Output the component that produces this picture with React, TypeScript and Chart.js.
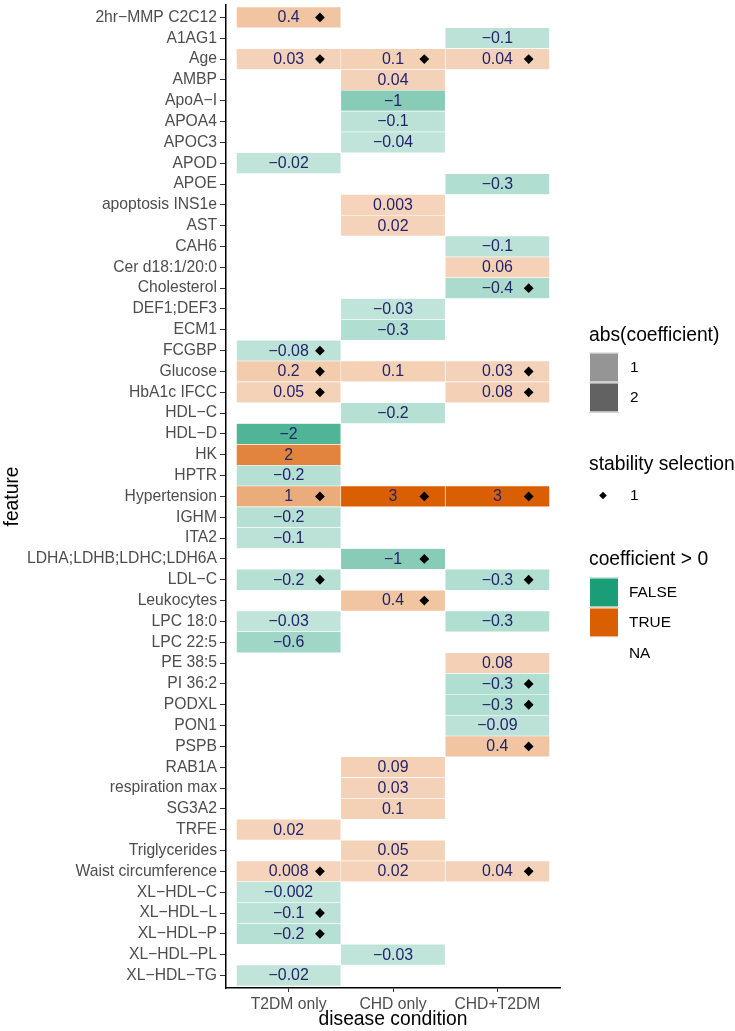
import React, { useEffect, useRef } from 'react';
import { Chart, registerables } from 'chart.js';

Chart.register(...registerables);

const _ = null;

const features: string[] = [
  '2hr−MMP C2C12', 'A1AG1', 'Age', 'AMBP', 'ApoA−I', 'APOA4', 'APOC3', 'APOD', 'APOE',
  'apoptosis INS1e', 'AST', 'CAH6', 'Cer d18:1/20:0', 'Cholesterol', 'DEF1;DEF3', 'ECM1',
  'FCGBP', 'Glucose', 'HbA1c IFCC', 'HDL−C', 'HDL−D', 'HK', 'HPTR', 'Hypertension', 'IGHM',
  'ITA2', 'LDHA;LDHB;LDHC;LDH6A', 'LDL−C', 'Leukocytes', 'LPC 18:0', 'LPC 22:5', 'PE 38:5',
  'PI 36:2', 'PODXL', 'PON1', 'PSPB', 'RAB1A', 'respiration max', 'SG3A2', 'TRFE',
  'Triglycerides', 'Waist circumference', 'XL−HDL−C', 'XL−HDL−L', 'XL−HDL−P', 'XL−HDL−PL',
  'XL−HDL−TG',
];

const conditions: string[] = ['T2DM only', 'CHD only', 'CHD+T2DM'];

// coefficients, one entry per feature (null = not selected)
const t2dmOnly: (number | null)[] = [
  0.4, _, 0.03, _, _, _, _, -0.02, _,
  _, _, _, _, _, _, _,
  -0.08, 0.2, 0.05, _, -2, 2, -0.2, 1, -0.2,
  -0.1, _, -0.2, _, -0.03, -0.6, _,
  _, _, _, _, _, _, _, 0.02,
  _, 0.008, -0.002, -0.1, -0.2, _,
  -0.02,
];

const chdOnly: (number | null)[] = [
  _, _, 0.1, 0.04, -1, -0.1, -0.04, _, _,
  0.003, 0.02, _, _, _, -0.03, -0.3,
  _, 0.1, _, -0.2, _, _, _, 3, _,
  _, -1, _, 0.4, _, _, _,
  _, _, _, _, 0.09, 0.03, 0.1, _,
  0.05, 0.02, _, _, _, -0.03,
  _,
];

const chdT2dm: (number | null)[] = [
  _, -0.1, 0.04, _, _, _, _, _, -0.3,
  _, _, -0.1, 0.06, -0.4, _, _,
  _, 0.03, 0.08, _, _, _, _, 3, _,
  _, _, -0.3, _, -0.3, _, 0.08,
  -0.3, -0.3, -0.09, 0.4, _, _, _, _,
  _, 0.04, _, _, _, _,
  _,
];

// features kept by stability selection, per condition
const t2dmStable: string[] = [
  '2hr−MMP C2C12', 'Age', 'FCGBP', 'Glucose', 'HbA1c IFCC', 'Hypertension', 'LDL−C',
  'Waist circumference', 'XL−HDL−L', 'XL−HDL−P',
];
const chdStable: string[] = ['Age', 'Hypertension', 'LDHA;LDHB;LDHC;LDH6A', 'Leukocytes'];
const chdT2dmStable: string[] = [
  'Age', 'Cholesterol', 'Glucose', 'HbA1c IFCC', 'Hypertension', 'LDL−C', 'PI 36:2', 'PODXL',
  'PSPB', 'Waist circumference',
];

const absLegendValues: number[] = [1, 2];
const signLegend: string[] = ['FALSE', 'TRUE', 'NA'];

const seriesList = [t2dmOnly, chdOnly, chdT2dm];
const stableList = [t2dmStable, chdStable, chdT2dmStable];

const FONT = "'Liberation Sans', Arial, Helvetica, sans-serif";
const NEG = [27, 158, 119];
const POS = [217, 95, 2];
const DIAMOND_NUDGE = 0.3;

const alphaFor = (v: number) => Math.min(1, 0.27 + 0.25 * Math.abs(v));
const tileColor = (v: number) => {
  const c = v > 0 ? POS : NEG;
  return `rgba(${c[0]},${c[1]},${c[2]},${alphaFor(v)})`;
};
const fmt = (v: number) => (v < 0 ? '−' : '') + String(Math.abs(v));

const labelPlugin = {
  id: 'tileLabels',
  afterDatasetsDraw(chart: any) {
    const { ctx, scales } = chart;
    const x = scales.x;
    const y = scales.y;
    ctx.save();
    ctx.font = `15.9px ${FONT}`;
    ctx.fillStyle = '#23236b';
    ctx.textAlign = 'center';
    ctx.textBaseline = 'middle';
    seriesList.forEach((vals, ci) => {
      vals.forEach((v, ri) => {
        if (v === null) return;
        ctx.fillText(fmt(v), x.getPixelForValue(ci + 1), y.getPixelForValue(ri + 1) + 0.5);
      });
    });
    ctx.restore();
  },
};

const legendPlugin = {
  id: 'ggLegend',
  afterDraw(chart: any) {
    const { ctx, chartArea } = chart;
    const lx = chartArea.right + 29;
    const cy = (chartArea.top + chartArea.bottom) / 2;
    const key = 30;
    ctx.save();
    ctx.textAlign = 'left';
    ctx.textBaseline = 'middle';

    // abs(coefficient)
    ctx.fillStyle = '#000';
    ctx.font = `19.3px ${FONT}`;
    ctx.fillText('abs(coefficient)', lx, cy - 161);
    absLegendValues.forEach((v, i) => {
      const top = cy - 144 + i * key;
      ctx.fillStyle = `rgba(51,51,51,${alphaFor(v)})`;
      ctx.fillRect(lx, top, key, key);
      ctx.strokeStyle = '#fff';
      ctx.lineWidth = 1;
      ctx.strokeRect(lx + 0.5, top + 0.5, key - 1, key - 1);
      ctx.fillStyle = '#000';
      ctx.font = `15.4px ${FONT}`;
      ctx.fillText(String(v), lx + 41, top + key / 2);
    });

    // stability selection
    ctx.fillStyle = '#000';
    ctx.font = `19.3px ${FONT}`;
    ctx.fillText('stability selection', lx, cy - 32);
    const dx = lx + 14;
    const dy = cy - 1;
    const r = 3.8;
    ctx.beginPath();
    ctx.moveTo(dx - r, dy);
    ctx.lineTo(dx, dy - r);
    ctx.lineTo(dx + r, dy);
    ctx.lineTo(dx, dy + r);
    ctx.closePath();
    ctx.fill();
    ctx.font = `15.4px ${FONT}`;
    ctx.fillText('1', lx + 41, dy);

    // coefficient > 0
    ctx.font = `19.3px ${FONT}`;
    ctx.fillText('coefficient > 0', lx, cy + 63);
    const keyColors = [
      `rgb(${NEG[0]},${NEG[1]},${NEG[2]})`,
      `rgb(${POS[0]},${POS[1]},${POS[2]})`,
      '#ffffff',
    ];
    signLegend.forEach((lab, i) => {
      const top = cy + 81 + i * key;
      ctx.fillStyle = keyColors[i];
      ctx.fillRect(lx, top, key, key);
      ctx.strokeStyle = '#fff';
      ctx.lineWidth = 1;
      ctx.strokeRect(lx + 0.5, top + 0.5, key - 1, key - 1);
      ctx.fillStyle = '#000';
      ctx.font = `15.4px ${FONT}`;
      ctx.fillText(lab, lx + 40, top + key / 2 + (i === 2 ? 1 : 0));
    });
    ctx.restore();
  },
};

export default function App() {
  const canvasRef = useRef<HTMLCanvasElement | null>(null);

  useEffect(() => {
    const canvas = canvasRef.current;
    if (!canvas) return;

    const barSets = seriesList.map((vals, ci) => {
      const pts: any[] = [];
      const colors: string[] = [];
      vals.forEach((v, ri) => {
        if (v === null) return;
        pts.push({ x: [ci + 0.5, ci + 1.5], y: ri + 1 });
        colors.push(tileColor(v));
      });
      return {
        type: 'bar' as const,
        label: conditions[ci],
        indexAxis: 'y' as const,
        data: pts,
        backgroundColor: colors,
        borderColor: '#ffffff',
        borderWidth: 0.6,
        borderSkipped: false,
        grouped: false,
        barPercentage: 1,
        categoryPercentage: 1,
        order: 2,
      };
    });

    const diamondSets = stableList.map((names, ci) => ({
      type: 'scatter' as const,
      label: conditions[ci] + ' stability',
      data: names.map((n) => ({ x: ci + 1 + DIAMOND_NUDGE, y: features.indexOf(n) + 1 })),
      pointStyle: 'rectRot' as const,
      pointRadius: 4.9,
      pointBackgroundColor: '#000',
      pointBorderWidth: 0,
      order: 1,
    }));

    const tickFont = { family: FONT, size: 15.7 };
    const titleFont = { family: FONT, size: 19.3 };

    const chart = new Chart(canvas, {
      type: 'bar',
      data: { datasets: [...barSets, ...diamondSets] as any },
      options: {
        responsive: false,
        maintainAspectRatio: false,
        devicePixelRatio: 1,
        animation: false,
        events: [],
        layout: { padding: { left: 0, top: 0, right: 175, bottom: 0 } },
        plugins: {
          legend: { display: false },
          tooltip: { enabled: false },
        },
        scales: {
          x: {
            type: 'linear',
            position: 'bottom',
            offset: false,
            bounds: 'data',
            beginAtZero: false,
            min: 0.4,
            max: conditions.length + 0.6,
            afterBuildTicks: (s: any) => {
              s.ticks = conditions.map((_c, i) => ({ value: i + 1 }));
            },
            afterFit: (s: any) => {
              s.height = 43;
              s.paddingLeft = 0;
              s.paddingRight = 0;
            },
            ticks: {
              autoSkip: false,
              maxRotation: 0,
              minRotation: 0,
              padding: 3,
              color: '#4d4d4d',
              font: tickFont,
              callback: (v: any) => conditions[Math.round(Number(v)) - 1] ?? '',
            },
            grid: {
              offset: false,
              drawOnChartArea: false,
              drawTicks: true,
              tickLength: 4,
              tickColor: '#333333',
              color: '#333333',
              lineWidth: 1,
            },
            border: { display: true, color: '#000000', width: 1.5 },
            title: {
              display: true,
              text: 'disease condition',
              color: '#000000',
              font: titleFont,
              padding: { top: 0, bottom: 0 },
            },
          },
          y: {
            type: 'linear',
            position: 'left',
            offset: false,
            bounds: 'data',
            beginAtZero: false,
            reverse: true,
            min: 0.4,
            max: features.length + 0.6,
            afterBuildTicks: (s: any) => {
              s.ticks = features.map((_f, i) => ({ value: i + 1 }));
            },
            afterFit: (s: any) => {
              s.width = 226;
              s.paddingTop = 0;
              s.paddingBottom = 0;
            },
            ticks: {
              autoSkip: false,
              padding: 3,
              color: '#4d4d4d',
              font: tickFont,
              callback: (v: any) => features[Math.round(Number(v)) - 1] ?? '',
            },
            grid: {
              offset: false,
              drawOnChartArea: false,
              drawTicks: true,
              tickLength: 6,
              tickColor: '#333333',
              color: '#333333',
              lineWidth: 1,
            },
            border: { display: true, color: '#000000', width: 1.5 },
            title: {
              display: true,
              text: 'feature',
              color: '#000000',
              font: titleFont,
              padding: { top: 1, bottom: 0 },
            },
          },
        },
      } as any,
      plugins: [labelPlugin, legendPlugin],
    });

    return () => chart.destroy();
  }, []);

  return (
    <div style={{ position: 'absolute', left: 0, top: 0, width: 735, height: 1031, background: '#fff' }}>
      <canvas ref={canvasRef} width={735} height={1031} style={{ display: 'block' }} />
    </div>
  );
}
